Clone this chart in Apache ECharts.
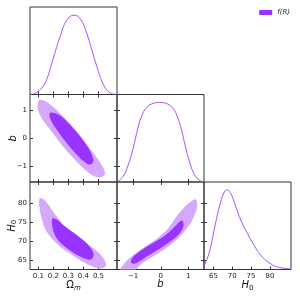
<!DOCTYPE html>
<html><head><meta charset="utf-8">
<script src="https://cdn.jsdelivr.net/npm/echarts@6/dist/echarts.min.js"></script>
<style>html,body{margin:0;padding:0;background:#fff}#c{width:300px;height:300px}</style>
</head><body><div id="c"></div>
<script>
// ---- data ----
const omTicks = [0.1, 0.2, 0.3, 0.4, 0.5];
const bTicks = [-1, 0, 1];
const h0Ticks = [65, 70, 75, 80];

const omMarg = [[0.045,0.001],[0.07,0.008],[0.1,0.04],[0.13,0.1],[0.156,0.19],[0.2,0.457],[0.245,0.726],[0.289,0.934],[0.333,0.996],[0.378,0.955],[0.422,0.768],[0.456,0.56],[0.489,0.353],[0.533,0.125],[0.578,0.02],[0.622,0.002]];
const bMarg = [[-1.58,0.002],[-1.36,0.07],[-1.18,0.21],[-1.0,0.42],[-0.85,0.64],[-0.7,0.82],[-0.5,0.94],[-0.25,0.99],[0.0,1.0],[0.25,0.98],[0.45,0.92],[0.6,0.82],[0.75,0.65],[0.9,0.43],[1.05,0.24],[1.22,0.09],[1.4,0.02],[1.55,0.003]];
const h0Marg = [[62.5,0.04],[63.95,0.222],[65.26,0.514],[66.58,0.786],[67.9,0.975],[68.77,1.0],[69.65,0.954],[70.97,0.786],[72.29,0.619],[74.04,0.452],[75.8,0.305],[77.55,0.18],[79.74,0.088],[81.9,0.033],[85.4,0.008]];

const omB95 = [[0.107,1.36],[0.156,1.29],[0.222,1.0],[0.288,0.64],[0.355,0.24],[0.421,-0.22],[0.488,-0.70],[0.532,-1.08],[0.543,-1.29],[0.521,-1.40],[0.477,-1.385],[0.41,-1.14],[0.333,-0.72],[0.255,-0.24],[0.178,0.30],[0.122,0.72],[0.096,1.08]];
const omB68 = [[0.178,0.90],[0.233,0.84],[0.3,0.54],[0.377,0.06],[0.439,-0.42],[0.466,-0.78],[0.455,-0.93],[0.426,-0.93],[0.366,-0.66],[0.288,-0.18],[0.222,0.30],[0.182,0.66]];
const omH95 = [[0.111,81.3],[0.145,80.7],[0.2,77.66],[0.289,73.33],[0.378,70.29],[0.467,68.1],[0.533,65.5],[0.551,63.6],[0.533,62.9],[0.489,62.9],[0.411,64.2],[0.323,66.4],[0.233,69.0],[0.156,72.45],[0.123,75.9],[0.107,79.4]];
const omH68 = [[0.193,75.9],[0.223,75.7],[0.267,74.2],[0.356,71.6],[0.433,69.0],[0.467,66.8],[0.46,65.5],[0.433,65.1],[0.356,66.4],[0.278,68.5],[0.223,70.7],[0.196,73.3]];
const bH95 = [[-1.47,62.0],[-1.23,64.8],[-0.94,66.6],[-0.51,68.8],[-0.10,70.9],[0.26,73.3],[0.56,76.4],[0.86,79.0],[1.10,80.5],[1.26,81.0],[1.32,79.8],[1.28,78.1],[1.10,75.05],[0.86,72.6],[0.56,70.3],[0.14,67.9],[-0.28,65.9],[-0.69,64.0],[-1.0,62.0]];
const bH68 = [[-1.05,65.3],[-0.76,67.3],[-0.28,69.5],[0.14,71.4],[0.50,73.8],[0.71,75.3],[0.79,75.4],[0.82,74.0],[0.68,72.0],[0.38,70.1],[-0.04,68.0],[-0.51,65.9],[-0.87,64.2],[-1.06,64.2]];

const legendLabel = 'f(R)';

// ---- styling / layout ----
const DARK = '#9933ff', LIGHT = '#d5a8fb', LINE = '#a650fb', FRAME = '#333';
const V = {
  om: {min: 0.045, max: 0.623, ticks: omTicks, fmt: v => v.toFixed(1), name: '{a|Ω}{s|m}'},
  b:  {min: -1.58, max: 1.56, ticks: bTicks, fmt: v => String(v).replace('-', '\u2212'), name: '{i|b}'},
  h:  {min: 62.5, max: 85.6, ticks: h0Ticks, fmt: v => String(v), name: '{i|H}{s0|0}'}
};
const vars = ['om', 'b', 'h'];
const rich = {
  a: {fontSize: 10, color: '#111', fontFamily: 'DejaVu Sans'},
  i: {fontSize: 10, color: '#111', fontStyle: 'italic', fontFamily: 'DejaVu Sans'},
  s: {fontSize: 7, color: '#111', fontStyle: 'italic', fontFamily: 'DejaVu Sans', padding: [5, 0, 0, 0]},
  s0: {fontSize: 7, color: '#111', fontFamily: 'DejaVu Sans', padding: [5, 0, 0, 0]}
};

function axis(v, o) {
  return {
    type: 'value', gridIndex: o.g, position: o.pos, min: V[v].min, max: V[v].max,
    axisLine: {show: false, onZero: false}, splitLine: {show: false},
    axisTick: {show: true, inside: true, length: 3, customValues: V[v].ticks, lineStyle: {color: FRAME, width: 1}},
    axisLabel: {show: !!o.labels, customValues: V[v].ticks, formatter: V[v].fmt, fontSize: 7, color: '#222', margin: 3, fontFamily: 'DejaVu Sans'},
    name: o.name ? V[v].name : '', nameLocation: 'middle', nameGap: o.gap || 10, nameMoveOverlap: false,
    nameTextStyle: {rich: rich}
  };
}

const L = 30, T = 7, W = 87, H = 87.5;
const panels = [[0,0],[1,0],[1,1],[2,0],[2,1],[2,2]];
const grids = [], xAxes = [], yAxes = [], pAx = [];
panels.forEach(([r, c], g) => {
  grids.push({left: L + c * W, top: T + r * H, width: W, height: H, show: true, borderColor: FRAME, borderWidth: 1, backgroundColor: 'transparent'});
  const xv = vars[c], yv = vars[r], diag = r === c;
  const xi = xAxes.length;
  xAxes.push(axis(xv, {g, pos: 'bottom', labels: r === 2, name: r === 2, gap: 10}));
  if (!diag) xAxes.push(axis(xv, {g, pos: 'top'}));
  const yi = yAxes.length;
  if (diag) {
    yAxes.push({type: 'value', gridIndex: g, min: 0, max: 1.1, show: false, axisLine: {onZero: false}});
    if (r > 0) yAxes.push(axis(yv, {g, pos: 'left'}));
  } else {
    yAxes.push(axis(yv, {g, pos: 'left', labels: c === 0, name: c === 0, gap: 12}));
    yAxes.push(axis(yv, {g, pos: 'right'}));
  }
  pAx.push({x: xi, y: yi});
});

function poly(name, g, pts, color, z) {
  return {
    type: 'custom', name: name, xAxisIndex: pAx[g].x, yAxisIndex: pAx[g].y, clip: true, silent: true, z: z,
    itemStyle: {color: color}, data: pts, encode: {x: 0, y: 1},
    renderItem: (params, api) => {
      if (params.dataIndex !== 0) return null;
      return {type: 'polygon', shape: {points: pts.map(p => api.coord(p)), smooth: 0.35}, style: {fill: color}};
    }
  };
}
function marg(g, pts) {
  return {
    type: 'custom', name: 'marg' + g, xAxisIndex: pAx[g].x, yAxisIndex: pAx[g].y, clip: true, silent: true, z: 4,
    itemStyle: {color: LINE}, data: pts, encode: {x: 0, y: 1},
    renderItem: (params, api) => {
      if (params.dataIndex !== 0) return null;
      return {type: 'polyline', shape: {points: pts.map(p => api.coord(p)), smooth: 0.45}, style: {stroke: LINE, lineWidth: 1, fill: null}};
    }
  };
}

const series = [
  marg(0, omMarg),
  poly('c95a', 1, omB95, LIGHT, 2), poly(legendLabel, 1, omB68, DARK, 3),
  marg(2, bMarg),
  poly('c95b', 3, omH95, LIGHT, 2), poly(legendLabel, 3, omH68, DARK, 3),
  poly('c95c', 4, bH95, LIGHT, 2), poly(legendLabel, 4, bH68, DARK, 3),
  marg(5, h0Marg)
];

const chart = echarts.init(document.getElementById('c'), null, {renderer: 'canvas'});
chart.setOption({
  animation: false,
  backgroundColor: '#fff',
  legend: {data: [legendLabel], right: 5, top: 4, icon: 'rect', itemWidth: 13, itemHeight: 5, itemGap: 4,
    textStyle: {fontSize: 7, fontStyle: 'italic', color: '#222', fontFamily: 'DejaVu Sans'}},
  grid: grids, xAxis: xAxes, yAxis: yAxes, series: series
});
</script></body></html>
